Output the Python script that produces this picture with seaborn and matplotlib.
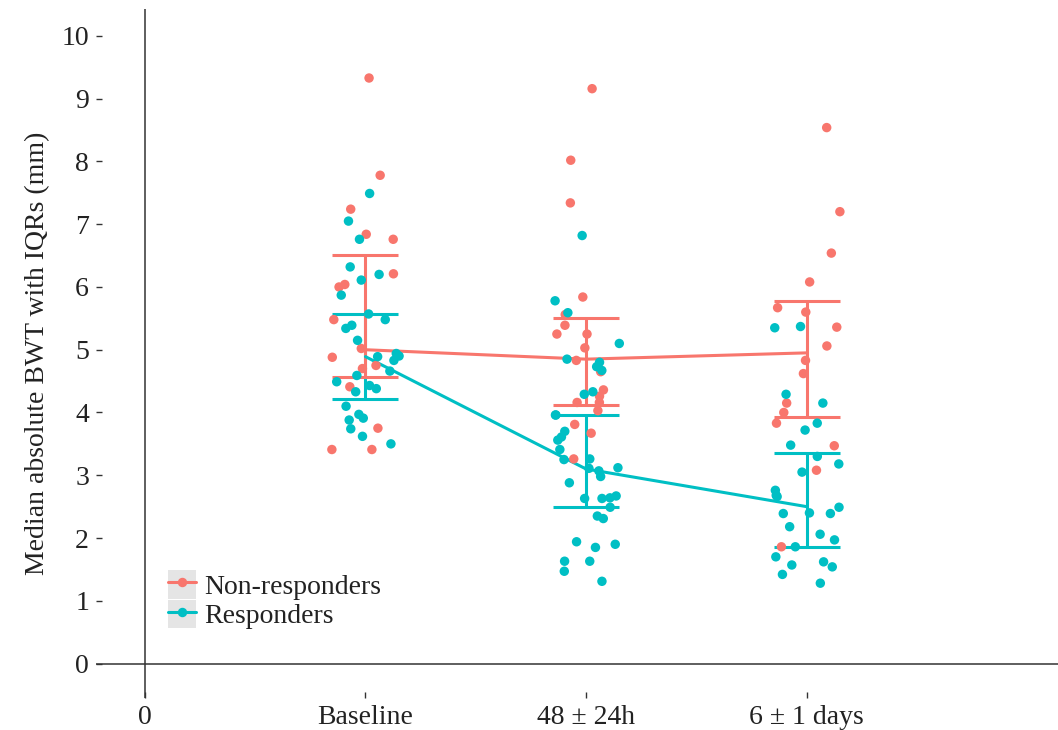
import numpy as np
import pandas as pd
import matplotlib.pyplot as plt
from matplotlib.lines import Line2D
from matplotlib.patches import Patch
from matplotlib.legend_handler import HandlerTuple
import seaborn as sns

# === 1. Values ===
time_labels = ['Baseline', '48 ± 24h', '6 ± 1 days']
time_pos = [1, 2, 3]
groups = ['Non-responders', 'Responders']

# individual patients (mm)
nonresp_baseline = [9.33, 7.78, 7.24, 6.84, 6.76, 6.21, 6.00, 6.04, 5.48, 5.02, 4.88,
                    4.70, 4.75, 4.41, 3.75, 3.41, 3.41]
nonresp_48h = [9.16, 8.02, 7.34, 5.84, 5.56, 5.39, 5.25, 5.25, 5.03, 4.83, 4.65, 4.36,
               4.26, 4.16, 4.16, 4.03, 3.81, 3.67, 3.26]
nonresp_6d = [8.54, 7.20, 6.54, 6.08, 5.67, 5.60, 5.36, 5.06, 4.83, 4.62, 4.15, 4.00,
              3.83, 3.47, 3.08, 1.86]
resp_baseline = [7.49, 7.05, 6.76, 6.32, 6.20, 6.11, 5.87, 5.57, 5.48, 5.39, 5.34, 5.15,
                 4.94, 4.90, 4.89, 4.83, 4.66, 4.59, 4.49, 4.38, 4.43, 4.33, 4.10, 3.97,
                 3.91, 3.88, 3.74, 3.62, 3.50]
resp_48h = [6.82, 5.78, 5.59, 5.10, 4.85, 4.80, 4.73, 4.67, 4.29, 4.33, 3.96, 3.96, 3.70,
            3.61, 3.56, 3.41, 3.26, 3.25, 3.12, 3.07, 3.11, 2.98, 2.88, 2.67, 2.64, 2.63,
            2.63, 2.49, 2.31, 2.35, 1.90, 1.85, 1.94, 1.63, 1.63, 1.47, 1.31]
resp_6d = [5.37, 5.35, 4.29, 4.15, 3.83, 3.72, 3.48, 3.30, 3.18, 3.05, 2.68, 2.76, 2.66,
           2.49, 2.40, 2.39, 2.39, 2.18, 2.06, 1.97, 1.86, 1.70, 1.54, 1.57, 1.62, 1.42,
           1.28]

# medians with IQRs
nonresp_median = [5.00, 4.85, 4.95]
nonresp_q1 = [4.57, 4.12, 3.93]
nonresp_q3 = [6.51, 5.51, 5.78]
resp_median = [4.89, 3.10, 2.50]
resp_q1 = [4.22, 2.49, 1.86]
resp_q3 = [5.57, 3.96, 3.36]

colors = {'Non-responders': '#F8766D', 'Responders': '#00BFC4'}
text_color = '#222222'
axis_color = '#333333'

# === 2. Long tables ===
points = {
    'Non-responders': [nonresp_baseline, nonresp_48h, nonresp_6d],
    'Responders': [resp_baseline, resp_48h, resp_6d],
}
rows = []
for g in groups:
    for t, vals in zip(time_pos, points[g]):
        rows += [{'time': t, 'group': g, 'bwt': v} for v in vals]
df = pd.DataFrame(rows)

summary = pd.DataFrame({
    'time': time_pos * 2,
    'group': [groups[0]] * 3 + [groups[1]] * 3,
    'median': nonresp_median + resp_median,
    'q1': nonresp_q1 + resp_q1,
    'q3': nonresp_q3 + resp_q3,
})

# === 3. Plot ===
sns.set_style('white')
plt.rcParams['font.family'] = ['Liberation Serif', 'DejaVu Serif']
plt.rcParams['font.size'] = 20

fig = plt.figure(figsize=(10.58, 7.30), dpi=100)
ax = fig.add_axes([0.0907, 0.0438, 0.9093, 0.9439])

ax.axvline(0, color=axis_color, lw=1.1, zorder=1)
ax.axhline(0, color=axis_color, lw=1.1, zorder=1)

# error bars: responders first so non-responders sit on top
for g in ['Responders', 'Non-responders']:
    s = summary[summary['group'] == g]
    ax.errorbar(s['time'], s['median'],
                yerr=[s['median'] - s['q1'], s['q3'] - s['median']],
                fmt='none', ecolor=colors[g], elinewidth=2.2,
                capsize=24, capthick=2.2, zorder=2)

sns.lineplot(data=summary, x='time', y='median', hue='group', hue_order=groups,
             palette=colors, lw=2.2, legend=False, ax=ax, zorder=3)

np.random.seed(3)
sns.stripplot(data=df, x='time', y='bwt', hue='group', hue_order=groups,
              palette=colors, native_scale=True, jitter=0.16, size=6.8,
              linewidth=0, legend=False, ax=ax, zorder=4)

ax.set_xlim(-0.222, 4.14)
ax.set_ylim(-0.55, 10.43)
ax.set_xticks([0] + time_pos)
ax.set_xticklabels(['0'] + time_labels)
ax.set_yticks(range(0, 11))
ax.tick_params(axis='both', direction='in', length=4.5, width=1, color=axis_color,
               labelcolor=text_color, labelsize=20, pad=5, left=True, bottom=True)
ax.set_xlabel('')
ax.set_ylabel('Median absolute BWT with IQRs (mm)', color=text_color,
              fontsize=20, labelpad=8)
for sp in ax.spines.values():
    sp.set_visible(False)

# legend with grey key background
handles = []
for g in groups:
    key_bg = Patch(facecolor='#e5e5e5', edgecolor='none')
    key = Line2D([], [], color=colors[g], lw=2.2, marker='o', markersize=6.8,
                 markeredgewidth=0)
    handles.append((key_bg, key))
ax.legend(handles, groups, handler_map={tuple: HandlerTuple(ndivide=1, pad=0)},
          loc='upper left', bbox_to_anchor=(0.0748, 0.186), frameon=False,
          fontsize=20, handlelength=1.0, handleheight=1.22, labelspacing=0,
          handletextpad=0.3, borderpad=0, borderaxespad=0, labelcolor=text_color)

fig.savefig('out.png', dpi=100)
